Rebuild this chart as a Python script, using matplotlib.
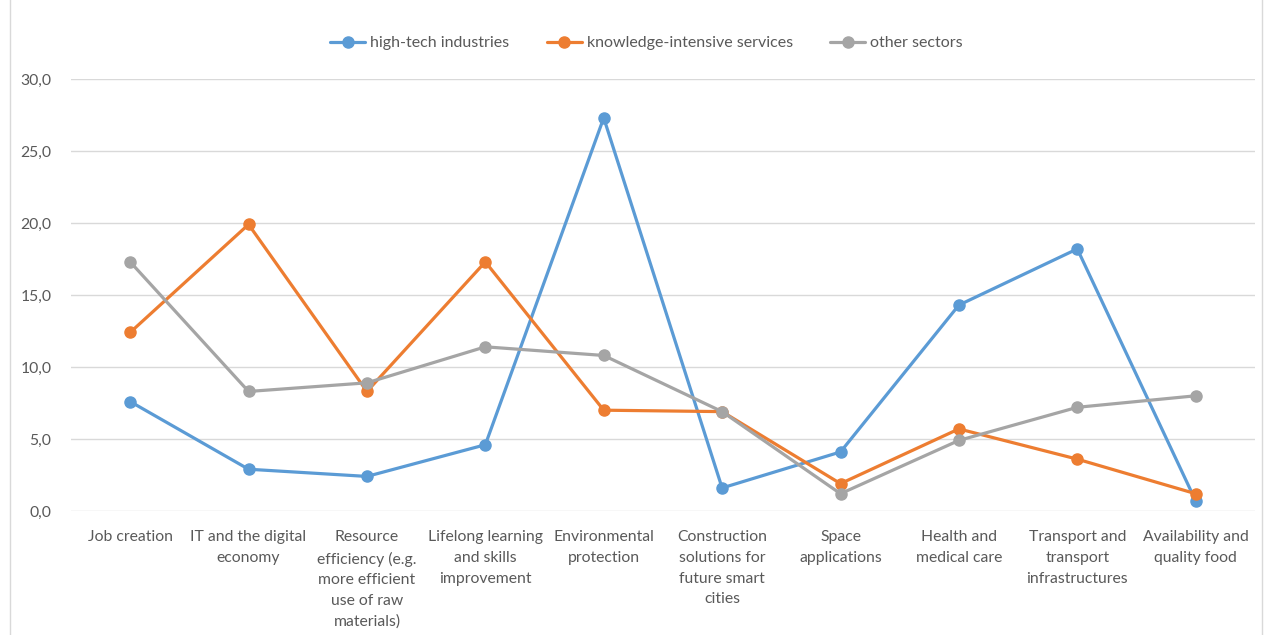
import matplotlib.pyplot as plt
from matplotlib.ticker import FuncFormatter

plt.rcParams['font.family'] = ['Lato', 'DejaVu Sans']

# Categories (wrapped the way the original shows them)
categories = [
    "Job creation",
    "IT and the digital\neconomy",
    "Resource\nefficiency (e.g.\nmore efficient\nuse of raw\nmaterials)",
    "Lifelong learning\nand skills\nimprovement",
    "Environmental\nprotection",
    "Construction\nsolutions for\nfuture smart\ncities",
    "Space\napplications",
    "Health and\nmedical care",
    "Transport and\ntransport\ninfrastructures",
    "Availability and\nquality food",
]

# Series values
high_tech = [7.6, 2.9, 2.4, 4.6, 27.3, 1.6, 4.1, 14.3, 18.2, 0.7]
knowledge = [12.4, 19.9, 8.3, 17.3, 7.0, 6.9, 1.9, 5.7, 3.6, 1.2]
other = [17.3, 8.3, 8.9, 11.4, 10.8, 6.9, 1.2, 4.9, 7.2, 8.0]

series_names = ["high-tech industries", "knowledge-intensive services", "other sectors"]
colors = ["#5B9BD5", "#ED7D31", "#A5A5A5"]

fig = plt.figure(figsize=(12.65, 6.35), dpi=100)
ax = fig.add_axes([0.0561, 0.1953, 0.9359, 0.6803])

x = range(len(categories))
for vals, name, col in zip([high_tech, knowledge, other], series_names, colors):
    ax.plot(x, vals, color=col, linewidth=2.3, marker='o', markersize=8,
            label=name, solid_capstyle='round')

ax.set_xlim(-0.5, len(categories) - 0.5)
ax.set_ylim(0, 30)
ax.set_yticks(range(0, 31, 5))
ax.yaxis.set_major_formatter(FuncFormatter(lambda v, p: f"{v:.1f}".replace('.', ',')))
ax.set_xticks(list(x))
ax.set_xticklabels(categories, linespacing=1.6, va='top')

ax.grid(axis='y', color='#d9d9d9', linewidth=1)
ax.set_axisbelow(True)
for s in ax.spines.values():
    s.set_visible(False)
ax.tick_params(axis='both', length=0, labelsize=11.3, colors='#595959')
ax.tick_params(axis='x', pad=14)
ax.tick_params(axis='y', pad=14)

fig.legend(loc='upper center', bbox_to_anchor=(0.511, 0.966), ncol=3, frameon=False,
           fontsize=11.5, labelcolor='#595959', handlelength=2.2, columnspacing=2.35,
           handletextpad=0.3)

# light chart border like the original
fig.patches.append(plt.Rectangle((0.008, -0.01), 0.99, 1.02, transform=fig.transFigure,
                                 fill=False, edgecolor='#d9d9d9', linewidth=1))

fig.savefig('out.png', dpi=100)
